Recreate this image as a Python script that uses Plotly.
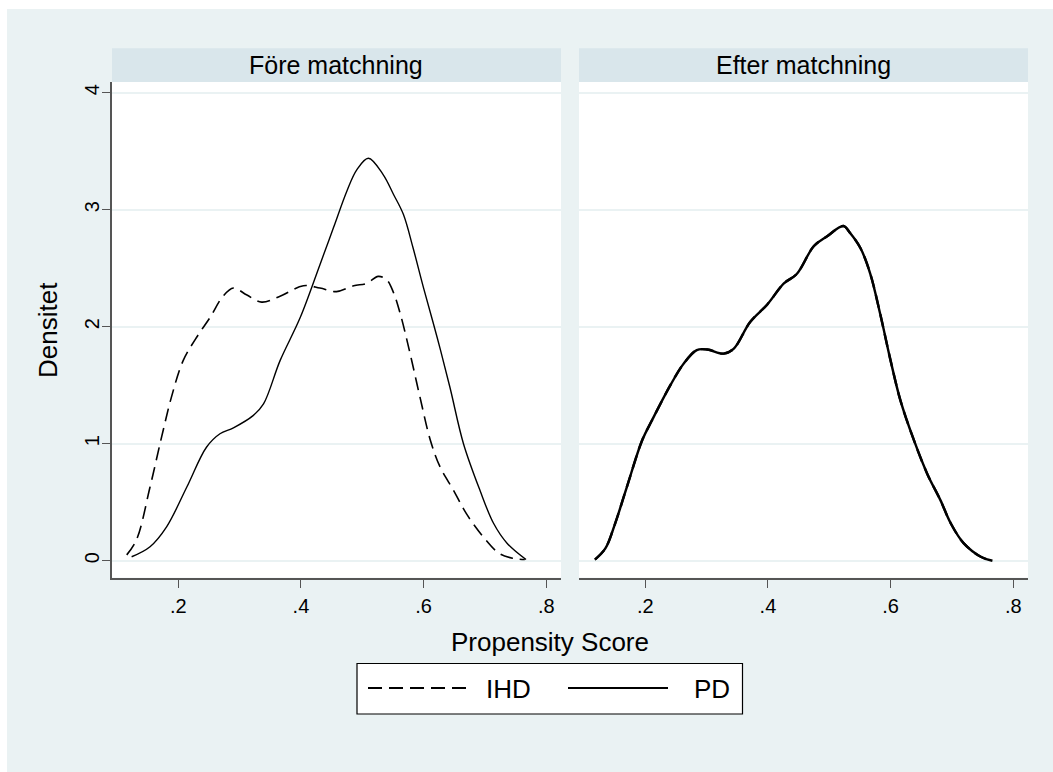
import plotly.graph_objects as go

W, H = 1053, 772

# ---- data ----
panel_titles = ["Före matchning", "Efter matchning"]
series_names = ["IHD", "PD"]

before_ihd_x = [0.116, 0.132, 0.154, 0.173, 0.189, 0.208, 0.230, 0.252, 0.273, 0.290, 0.312, 0.336,
                0.366, 0.404, 0.431, 0.458, 0.486, 0.507, 0.526, 0.540, 0.551, 0.562, 0.578, 0.594,
                0.611, 0.627, 0.649, 0.670, 0.698, 0.724, 0.746, 0.765]
before_ihd_y = [0.05, 0.18, 0.63, 1.06, 1.40, 1.71, 1.91, 2.08, 2.26, 2.33, 2.27, 2.21,
                2.26, 2.35, 2.33, 2.30, 2.35, 2.37, 2.43, 2.40, 2.29, 2.11, 1.77, 1.40,
                1.03, 0.80, 0.60, 0.40, 0.20, 0.06, 0.02, 0.01]

before_pd_x = [0.124, 0.154, 0.181, 0.214, 0.246, 0.268, 0.290, 0.322, 0.339, 0.366, 0.399, 0.431,
               0.453, 0.475, 0.491, 0.510, 0.534, 0.551, 0.567, 0.583, 0.600, 0.622, 0.643, 0.665,
               0.692, 0.714, 0.736, 0.767]
before_pd_y = [0.034, 0.12, 0.29, 0.63, 0.97, 1.085, 1.136, 1.24, 1.34, 1.71, 2.08, 2.53,
               2.845, 3.16, 3.34, 3.44, 3.30, 3.13, 2.96, 2.67, 2.33, 1.91, 1.48, 1.0,
               0.60, 0.32, 0.15, 0.01]

after_ihd_x = [0.118, 0.135, 0.151, 0.170, 0.195, 0.211, 0.241, 0.262, 0.284, 0.301, 0.328, 0.344,
               0.371, 0.399, 0.426, 0.447, 0.475, 0.496, 0.523, 0.534, 0.551, 0.567, 0.583, 0.600,
               0.616, 0.638, 0.660, 0.681, 0.698, 0.719, 0.747, 0.766]
after_ihd_y = [0.01, 0.105, 0.32, 0.63, 1.03, 1.20, 1.50, 1.68, 1.80, 1.805, 1.77, 1.81,
               2.04, 2.19, 2.37, 2.45, 2.69, 2.77, 2.86, 2.80, 2.67, 2.45, 2.11, 1.71,
               1.37, 1.03, 0.74, 0.52, 0.32, 0.15, 0.034, 0.0]
after_pd_x = [0.118, 0.135, 0.151, 0.170, 0.195, 0.211, 0.241, 0.262, 0.284, 0.301, 0.328, 0.344,
              0.371, 0.399, 0.426, 0.447, 0.475, 0.496, 0.523, 0.534, 0.551, 0.567, 0.583, 0.600,
              0.616, 0.638, 0.660, 0.681, 0.698, 0.719, 0.747, 0.766]
after_pd_y = [0.01, 0.105, 0.32, 0.63, 1.03, 1.20, 1.50, 1.68, 1.80, 1.805, 1.77, 1.81,
              2.04, 2.19, 2.37, 2.45, 2.69, 2.77, 2.86, 2.80, 2.67, 2.45, 2.11, 1.71,
              1.37, 1.03, 0.74, 0.52, 0.32, 0.15, 0.034, 0.0]

x_ticks = [0.2, 0.4, 0.6, 0.8]
x_ticklabels = [".2", ".4", ".6", ".8"]
y_ticks = [0, 1, 2, 3, 4]
y_ticklabels = ["0", "1", "2", "3", "4"]
x_title = "Propensity Score"
y_title = "Densitet"

# ---- style ----
FONT = "Liberation Sans, Arial, Helvetica, sans-serif"
BG = "#EAF2F3"
STRIP = "#D9E6EB"
GRID = "#EAF2F3"
AXIS = "#555555"
DASH = "13px,7px"

def px_x(p):
    return p / W

def px_y(p):
    return 1 - p / H

x1_dom = [px_x(112), px_x(561)]
x2_dom = [px_x(579), px_x(1028)]
y_dom = [px_y(577.7), px_y(82)]

fig = go.Figure()

fig.add_trace(go.Scatter(x=before_pd_x, y=before_pd_y, mode="lines", name=series_names[1],
                         line=dict(color="black", width=1.4, shape="spline"), xaxis="x", yaxis="y"))
fig.add_trace(go.Scatter(x=before_ihd_x, y=before_ihd_y, mode="lines", name=series_names[0],
                         line=dict(color="black", width=1.6, dash=DASH, shape="spline"), xaxis="x", yaxis="y"))
fig.add_trace(go.Scatter(x=after_pd_x, y=after_pd_y, mode="lines", name=series_names[1],
                         line=dict(color="black", width=2.4, shape="spline"), xaxis="x2", yaxis="y2"))
fig.add_trace(go.Scatter(x=after_ihd_x, y=after_ihd_y, mode="lines", name=series_names[0],
                         line=dict(color="black", width=2.4, dash=DASH, shape="spline"), xaxis="x2", yaxis="y2"))

xaxis_common = dict(range=[0.092, 0.824], tickmode="array", tickvals=x_ticks, ticktext=x_ticklabels,
                    showgrid=False, zeroline=False, showline=True, linecolor=AXIS, linewidth=1.6,
                    ticks="outside", ticklen=8, tickwidth=1.4, tickcolor=AXIS,
                    tickfont=dict(family=FONT, size=20, color="black"),
                    ticklabelstandoff=1, fixedrange=True)
yaxis_common = dict(range=[-0.145, 4.091], tickmode="array", tickvals=y_ticks, ticktext=y_ticklabels,
                    showgrid=True, gridcolor=GRID, gridwidth=1.6, zeroline=False, domain=y_dom,
                    fixedrange=True)

fig.update_layout(
    width=W, height=H, autosize=False,
    margin=dict(l=0, r=0, t=0, b=0),
    paper_bgcolor=BG, plot_bgcolor="white",
    showlegend=False,
    font=dict(family=FONT, color="black"),
    xaxis=dict(domain=x1_dom, anchor="y", **xaxis_common),
    xaxis2=dict(domain=x2_dom, anchor="y2", **xaxis_common),
    yaxis=dict(anchor="x", showline=True, linecolor=AXIS, linewidth=1.6,
               ticks="outside", ticklen=8, tickwidth=1.4, tickcolor=AXIS, tickangle=-90,
               tickfont=dict(family=FONT, size=20, color="black"), ticklabelstandoff=-5,
               **yaxis_common),
    yaxis2=dict(anchor="x2", showline=False, ticks="", showticklabels=False, **yaxis_common),
)

shapes = []
# white outer border (top / left)
shapes.append(dict(type="rect", xref="paper", yref="paper", x0=0, x1=1, y0=px_y(9), y1=1,
                   fillcolor="white", line=dict(width=0), layer="below"))
shapes.append(dict(type="rect", xref="paper", yref="paper", x0=0, x1=px_x(7), y0=0, y1=1,
                   fillcolor="white", line=dict(width=0), layer="below"))
# panel strips
annotations = []
for dom, title in zip([x1_dom, x2_dom], panel_titles):
    shapes.append(dict(type="rect", xref="paper", yref="paper", x0=dom[0], x1=dom[1],
                       y0=px_y(82), y1=px_y(48.3), fillcolor=STRIP, line=dict(width=0), layer="below"))
    annotations.append(dict(xref="paper", yref="paper", x=(dom[0] + dom[1]) / 2, y=px_y(65.5),
                            text=title, showarrow=False, xanchor="center", yanchor="middle",
                            font=dict(family=FONT, size=25, color="black")))

# axis titles
annotations.append(dict(xref="paper", yref="paper", x=px_x(550), y=px_y(642), text=x_title,
                        showarrow=False, xanchor="center", yanchor="middle",
                        font=dict(family=FONT, size=26, color="black")))
annotations.append(dict(xref="paper", yref="paper", x=px_x(48), y=px_y(330), text=y_title,
                        showarrow=False, xanchor="center", yanchor="middle", textangle=-90,
                        font=dict(family=FONT, size=26, color="black")))

# legend box (manual, to match long line samples)
shapes.append(dict(type="rect", xref="paper", yref="paper", x0=px_x(357), x1=px_x(742.5),
                   y0=px_y(714), y1=px_y(663.5), fillcolor="white",
                   line=dict(color="black", width=1.2), layer="above"))
shapes.append(dict(type="line", xref="paper", yref="paper", x0=px_x(368), x1=px_x(468),
                   y0=px_y(688), y1=px_y(688), line=dict(color="black", width=2.2, dash="14px,7px"),
                   layer="above"))
shapes.append(dict(type="line", xref="paper", yref="paper", x0=px_x(568), x1=px_x(668),
                   y0=px_y(688), y1=px_y(688), line=dict(color="black", width=2.2), layer="above"))
annotations.append(dict(xref="paper", yref="paper", x=px_x(484), y=px_y(689), text=series_names[0],
                        showarrow=False, xanchor="left", yanchor="middle",
                        font=dict(family=FONT, size=26, color="black")))
annotations.append(dict(xref="paper", yref="paper", x=px_x(692), y=px_y(689), text=series_names[1],
                        showarrow=False, xanchor="left", yanchor="middle",
                        font=dict(family=FONT, size=26, color="black")))

fig.update_layout(shapes=shapes, annotations=annotations)

fig.write_html("out.html")
